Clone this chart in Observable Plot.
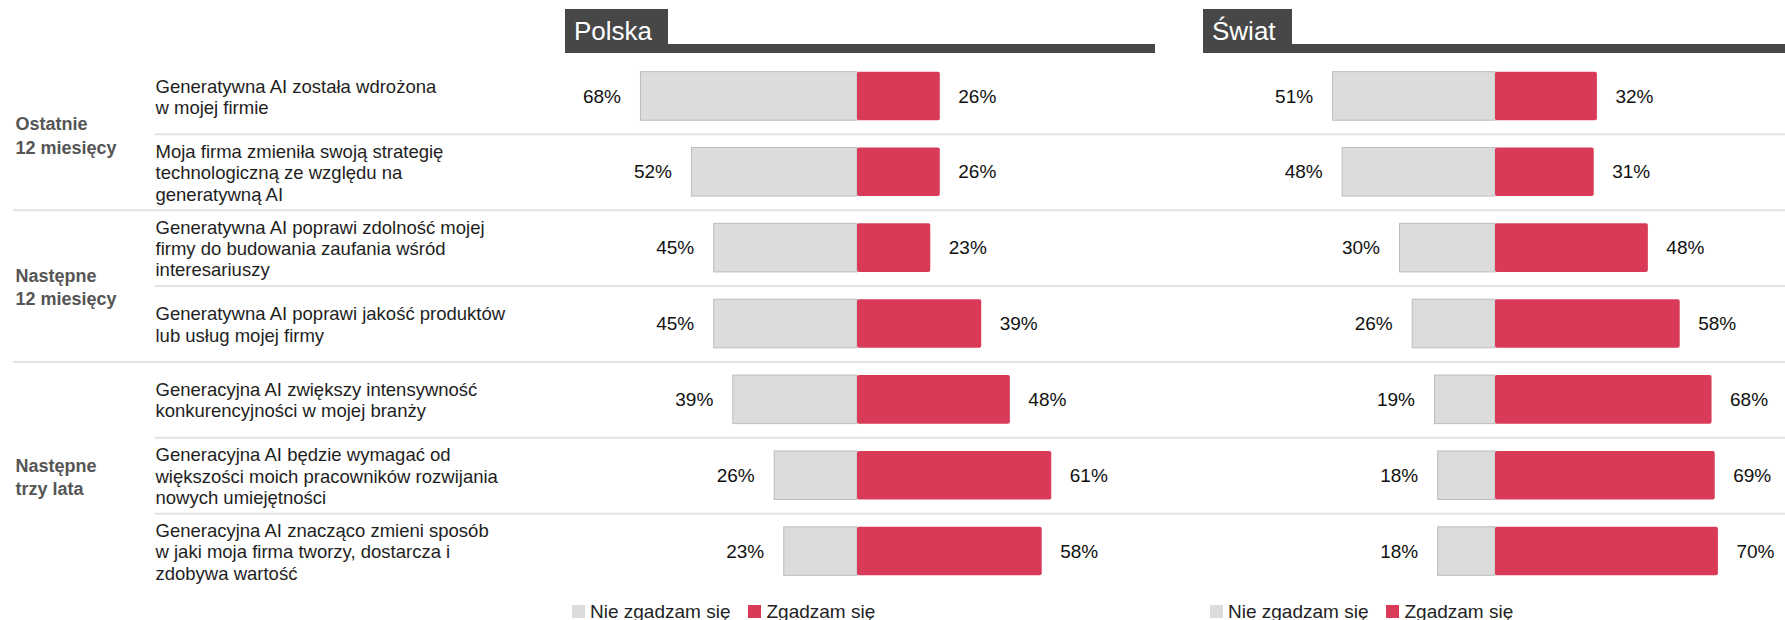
<!DOCTYPE html>
<html>
<head>
<meta charset="utf-8">
<script src="https://cdn.jsdelivr.net/npm/d3@7"></script>
<script src="https://cdn.jsdelivr.net/npm/@observablehq/plot@0.6"></script>
<style>
  html, body { margin: 0; padding: 0; background: #fff; }
  body { width: 1785px; height: 620px; position: relative; overflow: hidden;
         font-family: "Liberation Sans", Arial, sans-serif; }
  #header { position: relative; height: 53px; }
  .hdr { position: absolute; top: 9px; height: 44px; }
  .hdr .line { position: absolute; left: 0; right: 0; bottom: 0; height: 9.5px; background: #474747; }
  .hdr .box { position: absolute; left: 0; top: 0; height: 44px; background: #474747; color: #fff;
              font-size: 26px; line-height: 44px; padding: 0 16px 0 9px; box-sizing: border-box; white-space: nowrap; }
  #chart svg { display: block; }
  #legends { position: relative; height: 27px; }
  .lg { position: absolute; top: 0; height: 27px; display: flex; align-items: center; }
  .lg * { font-family: "Liberation Sans", Arial, sans-serif !important; font-size: 19px !important; color: #222 !important; }
  .lg .plot-swatch, .lg span { margin-right: 18px !important; }
  .lg svg { margin-right: 5px !important; }
  .lg > div { margin: 0 !important; min-height: 0 !important; }
</style>
</head>
<body>
<div id="header"></div>
<div id="chart"></div>
<div id="legends"></div>
<script>
// ---- data ----
const panels = ["Polska", "Świat"];
const rowLabels = [
  "Generatywna AI została wdrożona\nw mojej firmie",
  "Moja firma zmieniła swoją strategię\ntechnologiczną ze względu na\ngeneratywną AI",
  "Generatywna AI poprawi zdolność mojej\nfirmy do budowania zaufania wśród\ninteresariuszy",
  "Generatywna AI poprawi jakość produktów\nlub usług mojej firmy",
  "Generacyjna AI zwiększy intensywność\nkonkurencyjności w mojej branży",
  "Generacyjna AI będzie wymagać od\nwiększości moich pracowników rozwijania\nnowych umiejętności",
  "Generacyjna AI znacząco zmieni sposób\nw jaki moja firma tworzy, dostarcza i\nzdobywa wartość"
];
const groupLabels = ["Ostatnie\n12 miesięcy", "Następne\n12 miesięcy", "Następne\ntrzy lata"];
const rowGroup = [0, 0, 1, 1, 2, 2, 2];
const polskaNie = [68, 52, 45, 45, 39, 26, 23];
const polskaTak = [26, 26, 23, 39, 48, 61, 58];
const swiatNie = [51, 48, 30, 26, 19, 18, 18];
const swiatTak = [32, 31, 48, 58, 68, 69, 70];
const legendLabels = ["Nie zgadzam się", "Zgadzam się"];
const colors = ["#dcdcdc", "#d93a58"];

// ---- tables built from the arrays ----
const valuesByPanel = {Polska: [polskaNie, polskaTak], "Świat": [swiatNie, swiatTak]};
const bars = [];
panels.forEach(p => {
  rowLabels.forEach((label, i) => {
    bars.push({panel: p, row: i, nie: valuesByPanel[p][0][i], tak: valuesByPanel[p][1][i]});
  });
});
const rowsTable = rowLabels.map((label, i) => ({label, row: i, group: rowGroup[i]}));
const groupsTable = groupLabels.map((label, g) => {
  const idx = rowsTable.filter(r => r.group === g).map(r => r.row);
  return {label, row: d3.mean(idx)};
});
const seps = d3.range(rowLabels.length - 1).map(i => ({y: i + 0.5, major: rowGroup[i] !== rowGroup[i + 1]}));

const W = 1785, ML = 564;
const half = 0.32;
const first = () => panels[0];
const font = "'Liberation Sans', Arial, sans-serif";

const plot = Plot.plot({
  width: W,
  height: 545,
  marginLeft: ML,
  marginRight: 0,
  marginTop: 5,
  marginBottom: 9,
  style: {fontFamily: font, background: "transparent", overflow: "visible"},
  fx: {domain: panels, paddingInner: 0.0892, paddingOuter: 0, axis: null, label: null},
  x: {domain: [-91.7, 90.75], axis: null},
  y: {domain: [-0.5, 6.5], reverse: true, axis: null},
  marks: [
    // separators (drawn once, across the whole width)
    Plot.ruleY(seps.filter(d => d.major), {fx: first, y: "y", stroke: "#e2e2e2", strokeWidth: 2,
      insetLeft: -(ML - 12), insetRight: -(W - 1146)}),
    Plot.ruleY(seps.filter(d => !d.major), {fx: first, y: "y", stroke: "#e2e2e2", strokeWidth: 2,
      insetLeft: -(ML - 154), insetRight: -(W - 1146)}),
    // bars
    Plot.rectX(bars, {fx: "panel", x1: d => -d.nie, x2: 0, y1: d => d.row - half, y2: d => d.row + half,
      fill: colors[0], stroke: "#bdbdbd", strokeWidth: 1}),
    Plot.rectX(bars, {fx: "panel", x1: 0, x2: "tak", y1: d => d.row - half, y2: d => d.row + half,
      fill: colors[1], rx: 2}),
    // value labels
    Plot.text(bars, {fx: "panel", x: d => -d.nie, y: "row", text: d => d.nie + "%", textAnchor: "end", dx: -20,
      fontSize: 19, fill: "#111", stroke: "white", strokeWidth: 2}),
    Plot.text(bars, {fx: "panel", x: "tak", y: "row", text: d => d.tak + "%", textAnchor: "start", dx: 18,
      fontSize: 19, fill: "#111", stroke: "white", strokeWidth: 2}),
    // row labels
    Plot.text(rowsTable, {fx: first, y: "row", text: "label", frameAnchor: "left", textAnchor: "start",
      dx: -(ML - 154), fontSize: 18.5, lineHeight: 1.16, fill: "#1e1e1e"}),
    // group labels
    Plot.text(groupsTable, {fx: first, y: "row", text: "label", frameAnchor: "left", textAnchor: "start",
      dx: -(ML - 14), fontSize: 18, fontWeight: "bold", lineHeight: 1.3, fill: "#555"})
  ]
});
document.getElementById("chart").appendChild(plot);

// ---- panel headers & legends, positioned from the fx scale ----
const fxs = plot.scale("fx");
const header = document.getElementById("header");
const legends = document.getElementById("legends");
const bw = fxs.bandwidth;
panels.forEach((p, k) => {
  const left = fxs.apply(p);
  const right = k === 0 ? left + bw + 9 : W;
  const h = document.createElement("div");
  h.className = "hdr";
  h.style.left = left + "px";
  h.style.width = (right - left) + "px";
  h.innerHTML = `<div class="line"></div><div class="box">${p}</div>`;
  header.appendChild(h);

  const lg = document.createElement("div");
  lg.className = "lg";
  lg.style.left = (left + 7) + "px";
  lg.appendChild(Plot.legend({color: {type: "ordinal", domain: legendLabels, range: colors},
    swatchSize: 13, style: {fontFamily: font, fontSize: "19px"}}));
  legends.appendChild(lg);
});
</script>
</body>
</html>
